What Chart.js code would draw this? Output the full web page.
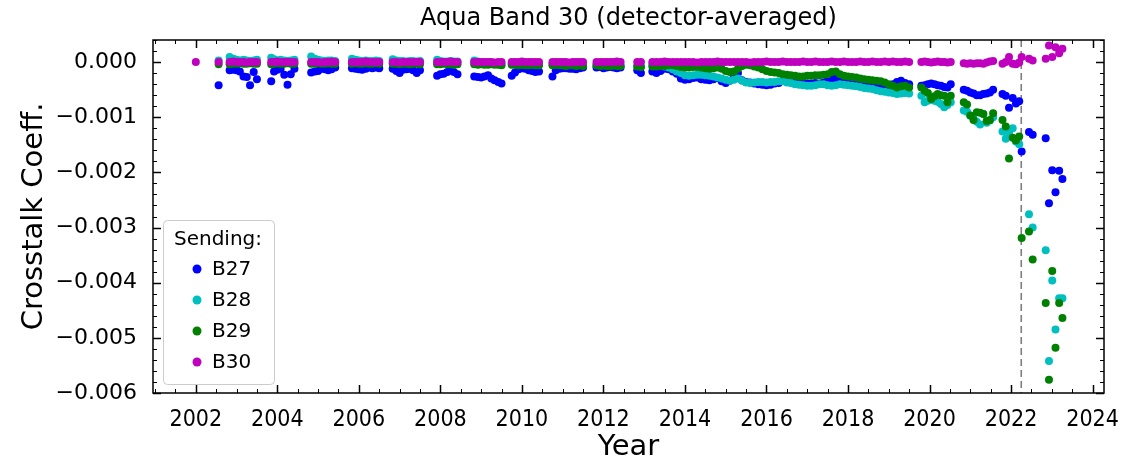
<!DOCTYPE html>
<html>
<head>
<meta charset="utf-8">
<script src="https://cdn.jsdelivr.net/npm/chart.js@4.4.1/dist/chart.umd.min.js"></script>
<style>
  html, body { margin: 0; padding: 0; background: #fff; }
  #wrap { position: relative; width: 1147px; height: 461px; }
</style>
</head>
<body>
<div id="wrap"><canvas id="xtalkChart"></canvas></div>
<script>
// Aqua Band 30 crosstalk coefficients

const chartTitle = 'Aqua Band 30 (detector-averaged)';
const seriesNames = ['B27', 'B28', 'B29', 'B30'];
const seriesColors = ['#0000ff', '#00bfbf', '#008000', '#bf00bf'];
const xTickValues = [2002, 2004, 2006, 2008, 2010, 2012, 2014, 2016, 2018, 2020, 2022, 2024];
const yTickValues = [0, -0.001, -0.002, -0.003, -0.004, -0.005, -0.006];
const eventYear = 2022.25; // dashed vertical line

const dates = [
  2002.00, 2002.56,
  2002.83, 2002.92, 2003.00, 2003.08, 2003.17, 2003.25, 2003.33, 2003.42, 2003.50,
  2003.85, 2003.92, 2004.00, 2004.08, 2004.17, 2004.25, 2004.33, 2004.42,
  2004.83, 2004.92, 2005.00, 2005.08, 2005.17, 2005.25, 2005.33, 2005.42,
  2005.83, 2005.92, 2006.00, 2006.08, 2006.17, 2006.25, 2006.33, 2006.42, 2006.50,
  2006.83, 2006.92, 2007.00, 2007.08, 2007.17, 2007.25, 2007.33, 2007.42, 2007.50,
  2007.92, 2008.00, 2008.08, 2008.17, 2008.25, 2008.33, 2008.42,
  2008.83, 2008.92, 2009.00, 2009.08, 2009.17, 2009.25, 2009.33, 2009.42, 2009.50,
  2009.75, 2009.83, 2009.92, 2010.00, 2010.08, 2010.17, 2010.25, 2010.33, 2010.42,
  2010.75, 2010.83, 2010.92, 2011.00, 2011.08, 2011.17, 2011.25, 2011.33, 2011.42, 2011.50,
  2011.83, 2011.92, 2012.00, 2012.08, 2012.17, 2012.25, 2012.33, 2012.42,
  2012.83, 2012.92,
  2013.2, 2013.3, 2013.4, 2013.5, 2013.6, 2013.7, 2013.8, 2013.9, 2014.0, 2014.1,
  2014.2, 2014.3, 2014.4, 2014.5, 2014.6, 2014.7, 2014.8, 2014.9, 2015.0, 2015.1,
  2015.2, 2015.3, 2015.4, 2015.5, 2015.6, 2015.7, 2015.8, 2015.9, 2016.0, 2016.1,
  2016.2, 2016.3, 2016.4, 2016.5, 2016.6, 2016.7, 2016.8, 2016.9, 2017.0, 2017.1,
  2017.2, 2017.3, 2017.4, 2017.5, 2017.6, 2017.7, 2017.8, 2017.9, 2018.0, 2018.1,
  2018.2, 2018.3, 2018.4, 2018.5, 2018.6, 2018.7, 2018.8, 2018.9, 2019.0, 2019.1,
  2019.2, 2019.3, 2019.4, 2019.5,
  2019.80, 2019.88, 2019.96, 2020.04, 2020.12, 2020.20, 2020.28, 2020.36, 2020.44, 2020.52,
  2020.84, 2020.92, 2021.00, 2021.08, 2021.16, 2021.24, 2021.32, 2021.40, 2021.48, 2021.56,
  2021.79, 2021.87, 2021.95, 2022.04, 2022.12, 2022.20, 2022.26,
  2022.44, 2022.53, 2022.85, 2022.93, 2023.01, 2023.09, 2023.18, 2023.26
];

const b27 = [
  null, -0.00042,
  -0.00015, -0.00014, -0.00015, -0.00017, -0.00026, -0.00027, -0.00042, -0.00018, -0.00031,
  -0.00035, -0.00017, -0.00014, -0.00012, -0.00023, -0.00041, -0.00022, -0.00012,
  -0.00019, -0.00017, -0.00016, -0.00012, -0.00013, -0.00015, -0.00013, -0.00010,
  -0.00011, -0.00012, -0.00013, -0.00014, -0.00012, -0.00010, -0.00011, -0.00010, -0.00011,
  -0.00012, -0.00016, -0.00020, -0.00014, -0.00013, -0.00012, -0.00015, -0.00020, -0.00015,
  -0.00025, -0.00022, -0.00021, -0.00018, -0.00015, -0.00018, -0.00022,
  -0.00026, -0.00027, -0.00028, -0.00026, -0.00024, -0.00030, -0.00033, -0.00036, -0.00039,
  -0.00025, -0.00019, -0.00013, -0.00011, -0.00012, -0.00015, -0.00016, -0.00018, -0.00017,
  -0.00026, -0.00015, -0.00012, -0.00011, -0.00011, -0.00012, -0.00012, -0.00013, -0.00011, -0.00010,
  -0.00010, -0.00009, -0.00011, -0.00010, -0.00009, -0.00010, -0.00011, -0.00010,
  -0.00015, -0.00020,
  -0.00017, -0.00020, -0.00016, -0.00012, -0.00013, -0.00017, -0.00021, -0.00030, -0.00032, -0.00031,
  -0.00029, -0.00028, -0.00031, -0.00032, -0.00033, -0.00031, -0.00029, -0.00035, -0.00038, -0.00034,
  -0.00028, -0.00020, -0.00033, -0.00036, -0.00037, -0.00039, -0.00040, -0.00041, -0.00042, -0.00041,
  -0.00039, -0.00038, -0.00034, -0.00030, -0.00031, -0.00034, -0.00036, -0.00038, -0.00039, -0.00039,
  -0.00038, -0.00039, -0.00037, -0.00033, -0.00030, -0.00030, -0.00031, -0.00033, -0.00034, -0.00035,
  -0.00037, -0.00038, -0.00039, -0.00041, -0.00041, -0.00040, -0.00041, -0.00041, -0.00042, -0.00040,
  -0.00036, -0.00034, -0.00038, -0.00040,
  -0.00043, -0.00042, -0.00040, -0.00039, -0.00040, -0.00042, -0.00043, -0.00045, -0.00046, -0.00040,
  -0.00050, -0.00052, -0.00055, -0.00057, -0.00060, -0.00060, -0.00058, -0.00057, -0.00055, -0.00050,
  -0.00058, -0.00061, -0.00083, -0.00065, -0.00075, -0.00071, -0.00162,
  -0.00127, -0.00132, -0.00138, -0.00256, -0.00196, -0.00236, -0.00197, -0.00212
];

const b28 = [
  null, 0.00003,
  0.00009, 0.00006, 0.00004, 0.00003, 0.00004, 0.00003, 0.00002, 0.00003, 0.00004,
  0.00008, 0.00005, 0.00003, 0.00004, 0.00003, 0.00002, 0.00003, 0.00004,
  0.00010, 0.00006, 0.00004, 0.00003, 0.00002, 0.00003, 0.00003, 0.00002,
  0.00006, 0.00004, 0.00003, 0.00002, 0.00003, 0.00002, 0.00002, 0.00003, 0.00002,
  0.00005, 0.00003, 0.00002, 0.00002, 0.00001, 0.00002, 0.00002, 0.00001, 0.00002,
  0.00004, 0.00002, 0.00001, 0.00001, 0.00002, 0.00001, 0.00001,
  0.00003, 0.00001, 0.00000, -0.00001, 0.00000, -0.00001, -0.00002, -0.00002, -0.00003,
  -0.00002, -0.00003, -0.00003, -0.00004, -0.00003, -0.00004, -0.00004, -0.00003, -0.00004,
  -0.00003, -0.00004, -0.00004, -0.00005, -0.00004, -0.00005, -0.00005, -0.00004, -0.00005, -0.00005,
  -0.00005, -0.00005, -0.00006, -0.00005, -0.00006, -0.00006, -0.00005, -0.00006,
  -0.00007, -0.00008,
  -0.00004, -0.00005, -0.00006, -0.00008, -0.00010, -0.00013, -0.00017, -0.00020, -0.00024, -0.00025,
  -0.00024, -0.00023, -0.00023, -0.00024, -0.00025, -0.00026, -0.00028, -0.00030, -0.00032, -0.00034,
  -0.00032, -0.00030, -0.00034, -0.00037, -0.00038, -0.00037, -0.00036, -0.00036, -0.00037, -0.00036,
  -0.00036, -0.00035, -0.00035, -0.00037, -0.00038, -0.00040, -0.00041, -0.00042, -0.00043, -0.00043,
  -0.00042, -0.00040, -0.00040, -0.00042, -0.00043, -0.00042, -0.00040, -0.00041, -0.00042, -0.00043,
  -0.00044, -0.00045, -0.00047, -0.00048, -0.00049, -0.00051, -0.00053, -0.00054, -0.00055, -0.00056,
  -0.00058, -0.00057, -0.00056, -0.00057,
  -0.00061, -0.00073, -0.00070, -0.00068, -0.00070, -0.00072, -0.00076, -0.00082, -0.00078, -0.00073,
  -0.00088, -0.00090, -0.00097, -0.00103, -0.00108, -0.00113, -0.00094, -0.00110, -0.00106, -0.00100,
  -0.00126, -0.00139, -0.00128, -0.00120, -0.00144, -0.00149, null,
  -0.00276, -0.00300, -0.00341, -0.00542, -0.00396, -0.00485, -0.00428, -0.00428
];

const b29 = [
  null, -0.00004,
  -0.00004, -0.00003, -0.00003, -0.00002, -0.00003, -0.00003, -0.00002, -0.00003, -0.00003,
  -0.00004, -0.00003, -0.00002, -0.00003, -0.00003, -0.00002, -0.00003, -0.00003,
  -0.00003, -0.00003, -0.00002, -0.00003, -0.00003, -0.00002, -0.00003, -0.00003,
  -0.00003, -0.00002, -0.00003, -0.00003, -0.00002, -0.00003, -0.00003, -0.00002, -0.00003,
  -0.00003, -0.00003, -0.00004, -0.00003, -0.00003, -0.00004, -0.00003, -0.00003, -0.00004,
  -0.00004, -0.00004, -0.00003, -0.00004, -0.00004, -0.00005, -0.00004,
  -0.00004, -0.00005, -0.00004, -0.00005, -0.00005, -0.00004, -0.00005, -0.00005, -0.00006,
  -0.00005, -0.00005, -0.00006, -0.00005, -0.00006, -0.00006, -0.00005, -0.00006, -0.00006,
  -0.00006, -0.00005, -0.00006, -0.00006, -0.00007, -0.00006, -0.00006, -0.00007, -0.00006, -0.00007,
  -0.00006, -0.00007, -0.00006, -0.00007, -0.00007, -0.00006, -0.00007, -0.00007,
  -0.00008, -0.00009,
  -0.00008, -0.00008, -0.00007, -0.00007, -0.00006, -0.00006, -0.00007, -0.00009, -0.00010, -0.00010,
  -0.00009, -0.00009, -0.00010, -0.00011, -0.00012, -0.00011, -0.00010, -0.00012, -0.00016, -0.00018,
  -0.00017, -0.00012, -0.00007, -0.00005, -0.00006, -0.00008, -0.00010, -0.00013, -0.00016, -0.00018,
  -0.00019, -0.00020, -0.00022, -0.00023, -0.00024, -0.00025, -0.00026, -0.00026, -0.00025, -0.00025,
  -0.00024, -0.00024, -0.00023, -0.00022, -0.00018, -0.00017, -0.00022, -0.00025, -0.00026, -0.00027,
  -0.00028, -0.00030, -0.00031, -0.00032, -0.00033, -0.00034, -0.00035, -0.00037, -0.00040, -0.00043,
  -0.00046, -0.00044, -0.00043, -0.00046,
  -0.00046, -0.00052, -0.00056, -0.00067, -0.00062, -0.00058, -0.00060, -0.00061, -0.00073, -0.00061,
  -0.00073, -0.00077, -0.00097, -0.00105, -0.00091, -0.00092, -0.00094, -0.00107, -0.00105, -0.00093,
  -0.00105, -0.00117, -0.00175, -0.00137, -0.00142, -0.00135, -0.00319,
  -0.00307, -0.00358, -0.00437, -0.00576, -0.00379, -0.00518, -0.00437, -0.00464
];

const b30 = [
  0.00000, 0.00000,
  0.00000, 0.00001, 0.00000, 0.00000, 0.00000, -0.00001, 0.00000, 0.00000, 0.00000,
  0.00000, 0.00000, 0.00001, 0.00000, 0.00000, 0.00000, 0.00000, 0.00000,
  0.00000, 0.00000, 0.00000, -0.00001, 0.00000, 0.00000, 0.00001, 0.00000,
  0.00000, 0.00000, 0.00000, 0.00000, 0.00001, 0.00000, 0.00000, 0.00000, 0.00000,
  0.00000, 0.00000, -0.00001, 0.00000, 0.00000, 0.00000, 0.00000, 0.00000, 0.00000,
  0.00000, 0.00000, 0.00000, 0.00000, 0.00001, 0.00000, 0.00000,
  0.00000, 0.00000, 0.00000, 0.00000, 0.00000, 0.00000, -0.00001, 0.00000, 0.00000,
  0.00000, 0.00000, 0.00000, 0.00001, 0.00000, 0.00000, 0.00000, 0.00000, 0.00000,
  0.00000, 0.00000, 0.00000, 0.00000, 0.00000, -0.00001, 0.00000, 0.00000, 0.00000, 0.00000,
  0.00000, 0.00000, 0.00000, 0.00000, 0.00000, 0.00000, 0.00001, 0.00000,
  0.00000, 0.00000,
  0.00000, 0.00000, 0.00000, 0.00001, 0.00000, 0.00000, 0.00000, 0.00000, 0.00000, 0.00000,
  0.00000, -0.00001, 0.00000, 0.00000, 0.00000, 0.00000, 0.00001, 0.00000, 0.00000, 0.00000,
  0.00000, 0.00000, 0.00000, 0.00000, -0.00001, 0.00000, 0.00000, 0.00000, 0.00001, 0.00000,
  0.00000, 0.00000, 0.00001, 0.00000, 0.00000, 0.00000, 0.00000, 0.00001, 0.00000, 0.00000,
  0.00001, 0.00000, 0.00000, 0.00000, 0.00001, 0.00000, 0.00000, 0.00001, 0.00000, 0.00000,
  0.00000, 0.00001, 0.00000, 0.00000, 0.00001, 0.00000, 0.00000, 0.00001, 0.00000, 0.00001,
  0.00000, 0.00000, 0.00001, 0.00000,
  0.00000, 0.00001, 0.00000, -0.00001, 0.00000, 0.00001, 0.00000, 0.00000, -0.00001, 0.00000,
  -0.00002, -0.00003, -0.00002, -0.00003, -0.00002, -0.00002, -0.00003, -0.00001, 0.00001, 0.00002,
  -0.00003, 0.00000, 0.00009, -0.00003, -0.00004, -0.00001, 0.00009,
  0.00006, 0.00003, 0.00006, 0.00030, 0.00009, 0.00027, 0.00016, 0.00024
];

const seriesValues = [b27, b28, b29, b30];

function toPoints(values) {
  const pts = [];
  values.forEach((v, i) => {
    if (v !== null) pts.push({ x: dates[i], y: v });
  });
  return pts;
}

const fmtY = (v) => {
  const s = Math.abs(v) < 1e-12 ? '0.000' : v.toFixed(3);
  return s.replace('-', '\u2212');
};

// Matplotlib-like frame: inward major/minor ticks on every side, dashed event line, title, legend
const axisDecor = {
  id: 'axisDecor',
  beforeDatasetsDraw(chart) {
    const { ctx, chartArea: a, scales: { x } } = chart;
    const vx = x.getPixelForValue(eventYear);
    ctx.save();
    ctx.strokeStyle = '#7f7f7f';
    ctx.lineWidth = 1.6;
    ctx.setLineDash([7, 4]);
    ctx.beginPath();
    ctx.moveTo(vx, a.top);
    ctx.lineTo(vx, a.bottom);
    ctx.stroke();
    ctx.restore();
  },
  afterDraw(chart) {
    const { ctx, chartArea: a, scales: { x, y } } = chart;
    ctx.save();
    ctx.strokeStyle = '#000';

    // x ticks every half year, majors every 2 years
    for (let k = Math.ceil(x.min * 2); k / 2 <= x.max; k++) {
      const v = k / 2;
      const px = Math.round(x.getPixelForValue(v)) + 0.5;
      const major = v % 2 === 0;
      const len = major ? 8 : 4;
      ctx.lineWidth = major ? 1.5 : 1;
      ctx.beginPath();
      ctx.moveTo(px, a.bottom); ctx.lineTo(px, a.bottom - len);
      ctx.moveTo(px, a.top); ctx.lineTo(px, a.top + len);
      ctx.stroke();
    }
    // y ticks every 0.0002, majors every 0.001
    for (let k = Math.ceil(y.min / 0.0002 - 1e-6); k * 0.0002 <= y.max + 1e-9; k++) {
      const py = Math.round(y.getPixelForValue(k * 0.0002)) + 0.5;
      const major = k % 5 === 0;
      const len = major ? 8 : 4;
      ctx.lineWidth = major ? 1.5 : 1;
      ctx.beginPath();
      ctx.moveTo(a.left, py); ctx.lineTo(a.left + len, py);
      ctx.moveTo(a.right, py); ctx.lineTo(a.right - len, py);
      ctx.stroke();
    }

    ctx.lineWidth = 1.5;
    ctx.strokeRect(a.left, a.top, a.right - a.left, a.bottom - a.top);

    // title over the plot area
    ctx.fillStyle = '#000';
    ctx.font = '24px "DejaVu Sans"';
    ctx.textAlign = 'center';
    ctx.textBaseline = 'middle';
    ctx.fillText(chartTitle, (a.left + a.right) / 2, 19);

    // legend box in the lower left corner
    const bx = a.left + 10, by = 220, bw = 111, bh = 164;
    ctx.beginPath();
    ctx.roundRect(bx + 0.5, by + 0.5, bw, bh, 4);
    ctx.fillStyle = 'rgba(255,255,255,0.8)';
    ctx.fill();
    ctx.strokeStyle = '#cccccc';
    ctx.lineWidth = 1;
    ctx.stroke();

    ctx.fillStyle = '#000';
    ctx.font = '20px "DejaVu Sans"';
    ctx.textAlign = 'left';
    ctx.fillText('Sending:', bx + 11, by + 20);
    chart.data.datasets.forEach((ds, i) => {
      const cy = by + 49 + i * 31;
      ctx.beginPath();
      ctx.arc(bx + 34, cy, 4.5, 0, Math.PI * 2);
      ctx.fillStyle = ds.backgroundColor;
      ctx.fill();
      ctx.fillStyle = '#000';
      ctx.fillText(ds.label, bx + 49, cy + 1);
    });
    ctx.restore();
  }
};

new Chart(document.getElementById('xtalkChart'), {
  type: 'scatter',
  data: {
    datasets: seriesNames.map((name, i) => ({
      label: name,
      data: toPoints(seriesValues[i]),
      backgroundColor: seriesColors[i],
      borderWidth: 0,
      pointRadius: 4,
      pointHoverRadius: 4,
      order: seriesNames.length - i  // later bands drawn on top
    }))
  },
  options: {
    responsive: true,
    maintainAspectRatio: false,
    animation: false,
    layout: { padding: { top: 40, right: 43, bottom: 0, left: 0 } },
    plugins: {
      legend: { display: false },
      title: { display: false },
      tooltip: { enabled: false }
    },
    scales: {
      x: {
        type: 'linear',
        min: 2000.95,
        max: 2024.28,
        afterBuildTicks: (s) => { s.ticks = xTickValues.map(v => ({ value: v })); },
        afterFit: (s) => { s.height = 68; },
        grid: { display: false },
        border: { display: false },
        ticks: {
          color: '#000',
          padding: 5,
          maxRotation: 0,
          autoSkip: false,
          font: { family: '"DejaVu Sans Condensed", "DejaVu Sans"', size: 23 },
          callback: (v) => String(v)
        },
        title: {
          display: true,
          text: 'Year',
          color: '#000',
          font: { family: '"DejaVu Sans"', size: 29, lineHeight: 1 },
          padding: { top: 0, bottom: -1 }
        }
      },
      y: {
        min: -0.006,
        max: 0.0004,
        afterBuildTicks: (s) => { s.ticks = yTickValues.map(v => ({ value: v })); },
        afterFit: (s) => { s.width = 153; },
        grid: { display: false },
        border: { display: false },
        ticks: {
          color: '#000',
          padding: 8,
          font: { family: '"DejaVu Sans"', size: 22 },
          callback: fmtY
        },
        title: {
          display: true,
          text: 'Crosstalk Coeff.',
          color: '#000',
          font: { family: '"DejaVu Sans"', size: 29, lineHeight: 1 },
          padding: { top: 20, bottom: 0 }
        }
      }
    }
  },
  plugins: [axisDecor]
});
</script>
</body>
</html>
